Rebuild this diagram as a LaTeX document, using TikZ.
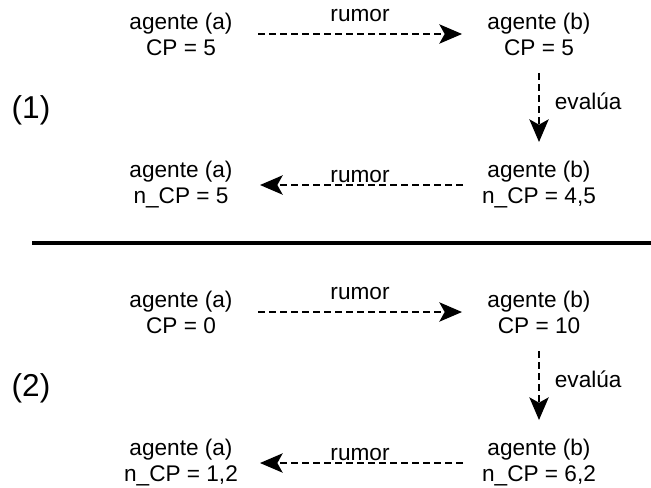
\documentclass[tikz,border=0pt]{standalone}
\usepackage{fontspec}
\setmainfont{Liberation Sans}
\usetikzlibrary{arrows.meta, positioning}
\tikzset{
  agent/.style={on grid,align=center,inner sep=0pt,font=\fontsize{19.3}{22.2}\selectfont},
  tag/.style={inner sep=0pt,font=\fontsize{19.3}{22.2}\selectfont},
  casenum/.style={inner sep=0pt,font=\fontsize{27}{30}\selectfont},
  rumour/.style={line width=1.5pt,dash pattern=on 6pt off 3.4pt,-{Stealth[length=0.68cm,width=0.58cm,inset=0.16cm]}},
  separator/.style={line width=2.6pt},
}

\begin{document}
\begin{tikzpicture}[x=0.03cm,y=-0.03cm]
	\useasboundingbox (0,0) rectangle (651,488);
	% caso (1)
	\node[agent] (A1) at (181,34) {agente (a)\\CP = 5};
	\node[agent,right=10.74cm of A1] (B1) {agente (b)\\CP = 5};
	\node[agent,below=4.53cm of A1] (A2) {agente (a)\\n\_CP = 5};
	\node[agent,right=10.74cm of A2] (B2) {agente (b)\\n\_CP = 4,5};
	\node[casenum] (N1) at (31,110) {(1)};
	\draw[rumour,shorten <=2.31cm,shorten >=2.31cm] (A1.center) -- node[tag,above=10pt] {rumor} (B1.center);
	\draw[rumour,shorten <=1.17cm,shorten >=1.29cm] (B1.center) -- node[tag,right=0.45cm,yshift=0.25cm] {evalúa} (B2.center);
	\draw[rumour,shorten <=2.28cm,shorten >=2.37cm] (B2.center) -- node[tag,above=1pt] {rumor} (A2.center);
	\draw[separator] (32,243) -- (651,243);
	% caso (2)
	\node[agent,below=8.34cm of A1] (A3) {agente (a)\\CP = 0};
	\node[agent,right=10.74cm of A3] (B3) {agente (b)\\CP = 10};
	\node[agent,below=4.53cm of A3] (A4) {agente (a)\\n\_CP = 1,2};
	\node[agent,right=10.74cm of A4] (B4) {agente (b)\\n\_CP = 6,2};
	\node[casenum] (N2) at (31,388) {(2)};
	\draw[rumour,shorten <=2.31cm,shorten >=2.31cm] (A3.center) -- node[tag,above=10pt] {rumor} (B3.center);
	\draw[rumour,shorten <=1.17cm,shorten >=1.29cm] (B3.center) -- node[tag,right=0.45cm,yshift=0.25cm] {evalúa} (B4.center);
	\draw[rumour,shorten <=2.28cm,shorten >=2.37cm] (B4.center) -- node[tag,above=1pt] {rumor} (A4.center);
\end{tikzpicture}
\end{document}
